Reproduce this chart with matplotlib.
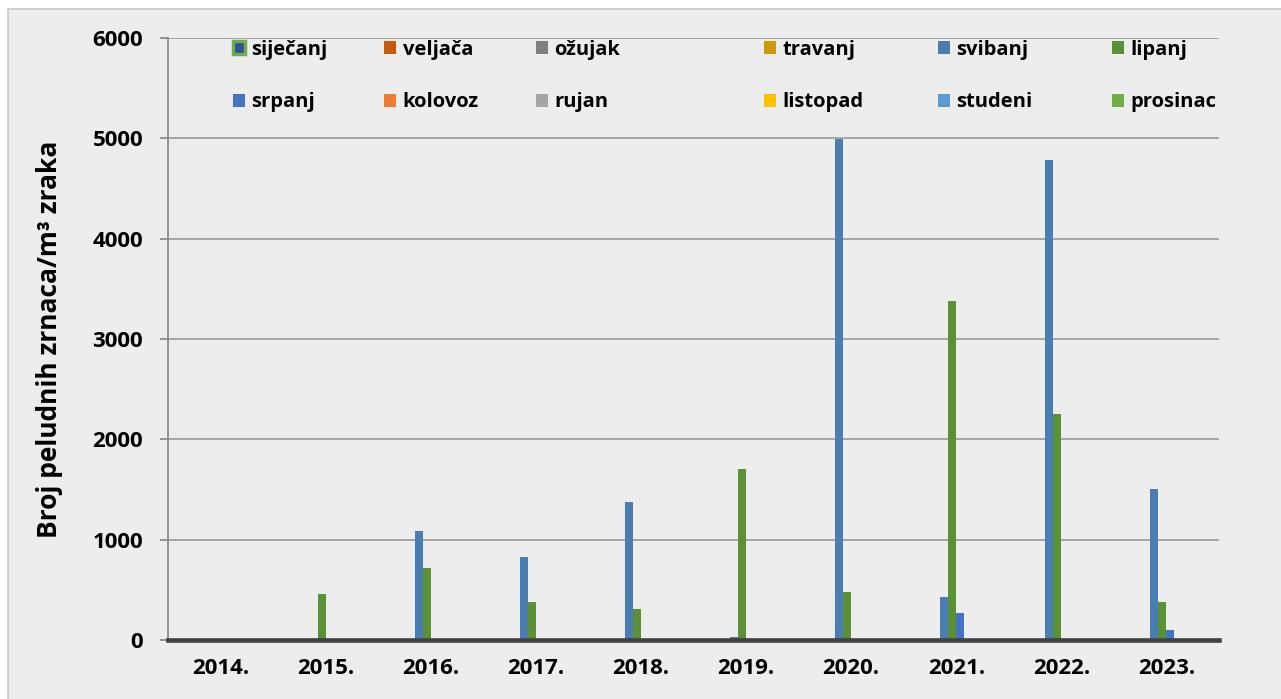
import numpy as np
import matplotlib
matplotlib.use("Agg")
import matplotlib.pyplot as plt
from matplotlib.patches import Rectangle, Patch

plt.rcParams['font.family'] = ['Open Sans', 'DejaVu Sans']
plt.rcParams['font.weight'] = 'bold'

years = ['2014.', '2015.', '2016.', '2017.', '2018.', '2019.', '2020.', '2021.', '2022.', '2023.']
months = ['siječanj', 'veljača', 'ožujak', 'travanj', 'svibanj', 'lipanj',
          'srpanj', 'kolovoz', 'rujan', 'listopad', 'studeni', 'prosinac']

sijecanj = [0, 0, 0, 0, 0, 0, 0, 0, 0, 0]
veljaca  = [0, 0, 0, 0, 0, 0, 0, 0, 0, 0]
ozujak   = [0, 0, 0, 0, 0, 0, 0, 0, 0, 0]
travanj  = [0, 0, 0, 0, 0, 0, 0, 0, 0, 0]
svibanj  = [0, 0, 1090, 830, 1380, 30, 4990, 430, 4780, 1505]
lipanj   = [0, 460, 715, 380, 310, 1705, 475, 3380, 2250, 380]
srpanj   = [0, 0, 0, 0, 0, 0, 0, 265, 0, 100]
kolovoz  = [0, 0, 0, 0, 0, 0, 0, 0, 0, 0]
rujan    = [0, 0, 0, 0, 0, 0, 0, 0, 0, 0]
listopad = [0, 0, 0, 0, 0, 0, 0, 0, 0, 0]
studeni  = [0, 0, 0, 0, 0, 0, 0, 0, 0, 0]
prosinac = [0, 0, 0, 0, 0, 0, 0, 0, 0, 0]

series = [sijecanj, veljaca, ozujak, travanj, svibanj, lipanj,
          srpanj, kolovoz, rujan, listopad, studeni, prosinac]
colors = ['#2f4f9a', '#c55a11', '#7f7f7f', '#cc9a06', '#4a7eb0', '#5b9136',
          '#4472c4', '#ed7d31', '#a5a5a5', '#ffc000', '#5b9bd5', '#70ad47']

W, H = 1281, 699
fig = plt.figure(figsize=(W / 100, H / 100), dpi=100, facecolor='white')
bg = Rectangle((8 / W, -0.01), 1.0, 1 - 9 / H + 0.01, transform=fig.transFigure,
               facecolor='#ededed', edgecolor='#c8c8c8', linewidth=1.2, zorder=-5)
fig.patches.append(bg)

ax = fig.add_axes([168 / W, 1 - 640 / H, (1219 - 168) / W, (640 - 38) / H])
ax.set_facecolor('none')
ax.set_zorder(2)

x = np.arange(len(years))
w = 8 / 105.1
for i, (vals, c) in enumerate(zip(series, colors)):
    ax.bar(x + (i - 5.5) * w, vals, width=w, color=c, zorder=3, linewidth=0)

ax.set_xlim(-0.5, len(years) - 0.5)
ax.set_ylim(0, 6000)
ax.set_yticks(np.arange(0, 6001, 1000))
ax.set_xticks(x)
ax.set_xticklabels(years)
ax.grid(axis='y', color='#a0a0a0', linewidth=1.3, zorder=1)
ax.set_axisbelow(True)

for s in ['top', 'right']:
    ax.spines[s].set_visible(False)
ax.spines['left'].set_color('#8c8c8c')
ax.spines['left'].set_linewidth(1.3)
ax.spines['bottom'].set_color('#404040')
ax.spines['bottom'].set_linewidth(3.3)
ax.spines['bottom'].set_zorder(4)

ax.tick_params(axis='y', length=6, width=1.3, color='#8c8c8c', pad=12,
               labelsize=16, labelcolor='black')
ax.tick_params(axis='x', length=0, pad=13, labelsize=16, labelcolor='black')
for lab in ax.get_xticklabels() + ax.get_yticklabels():
    lab.set_fontweight('bold')

ax.set_ylabel('Broj peludnih zrnaca/m³ zraka', fontsize=19, fontweight='bold', va='center')
ax.yaxis.set_label_coords((50 - 168) / 1051, 0.5)

# legend: 6 columns, 2 rows each, at individual x positions
col_x = [233, 384, 536, 764, 938, 1112]
fs = 14.5
for j in range(6):
    hs = []
    for k in (j, j + 6):
        if k == 0:
            hs.append(Patch(facecolor=colors[0], edgecolor='#70ad47', linewidth=2.5))
        else:
            hs.append(Patch(facecolor=colors[k]))
    leg = fig.legend(hs, [months[j], months[j + 6]], loc='upper left',
                     bbox_to_anchor=(col_x[j] / W, 1 - 40 / H), frameon=False,
                     handlelength=0.62, handleheight=0.62,
                     handletextpad=0.3, labelspacing=1.6, borderpad=0,
                     borderaxespad=0, prop={'weight': 'bold', 'size': fs})
    leg.set_zorder(5)

fig.savefig('out.png', dpi=100, facecolor=fig.get_facecolor())
